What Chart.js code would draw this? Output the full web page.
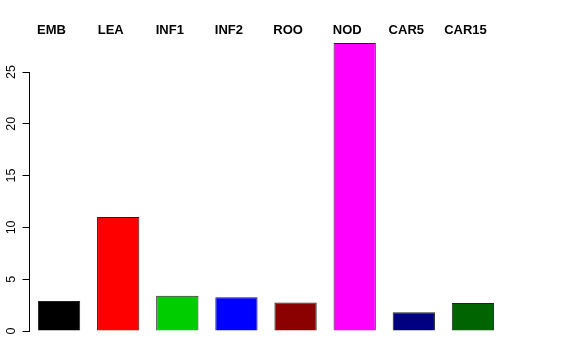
<!DOCTYPE html>
<html lang="en">
<head>
<meta charset="UTF-8">
<title>barplot</title>
<style>
  body { margin: 0; background: #fff; }
</style>
</head>
<body>
<canvas id="myChart" width="576" height="360"></canvas>
<script src="https://cdn.jsdelivr.net/npm/chart.js"></script>
<script>
// data
const categories = ['EMB', 'LEA', 'INF1', 'INF2', 'ROO', 'NOD', 'CAR5', 'CAR15'];
const values = [2.9, 11.0, 3.4, 3.25, 2.75, 27.8, 1.8, 2.7];
const barColors = ['#000000', '#ff0000', '#00cd00', '#0000ff', '#8b0000', '#ff00ff', '#000080', '#006400'];
const yTicks = [0, 5, 10, 15, 20, 25];

// R style axis: line only from first to last tick, rotated labels, names on top
const rAxis = {
  id: 'rAxis',
  afterDraw(chart) {
    const c = chart.ctx;
    const y = chart.scales.y;
    const x = chart.scales.x;
    const left = chart.chartArea.left;
    c.save();
    c.strokeStyle = '#000';
    c.lineWidth = 1;
    c.beginPath();
    c.moveTo(left, y.getPixelForValue(yTicks[0]));
    c.lineTo(left, y.getPixelForValue(yTicks[yTicks.length - 1]));
    c.stroke();

    c.fillStyle = '#000';
    c.font = '12.5px "Liberation Sans", Arial, sans-serif';
    c.textAlign = 'center';
    c.textBaseline = 'middle';
    yTicks.forEach(v => {
      c.save();
      c.translate(11.5, y.getPixelForValue(v));
      c.rotate(-Math.PI / 2);
      c.fillText(String(v), 0, 0);
      c.restore();
    });

    c.font = 'bold 13px "Liberation Sans", Arial, sans-serif';
    categories.forEach((name, i) => {
      c.fillText(name, x.getPixelForValue(i) - 7.5, 30);
    });
    c.restore();
  }
};

const ctx = document.getElementById('myChart');
new Chart(ctx, {
  type: 'bar',
  data: {
    labels: categories,
    datasets: [{
      data: values,
      backgroundColor: barColors,
      borderColor: '#222',
      borderWidth: 1,
      barPercentage: 0.715,
      categoryPercentage: 1.0
    }]
  },
  options: {
    responsive: false,
    animation: false,
    layout: { padding: { top: 43, bottom: 29, left: 0, right: 73.5 } },
    plugins: { legend: { display: false }, tooltip: { enabled: false } },
    scales: {
      x: { display: false },
      y: {
        min: 0,
        max: 27.8,
        afterFit: (s) => { s.width = 29.5; },
        border: { display: false },
        grid: { drawOnChartArea: false, drawTicks: true, tickLength: 7, color: '#000', lineWidth: 1 },
        ticks: { stepSize: 5, includeBounds: false, display: false }
      }
    }
  },
  plugins: [rAxis]
});
</script>
</body>
</html>
